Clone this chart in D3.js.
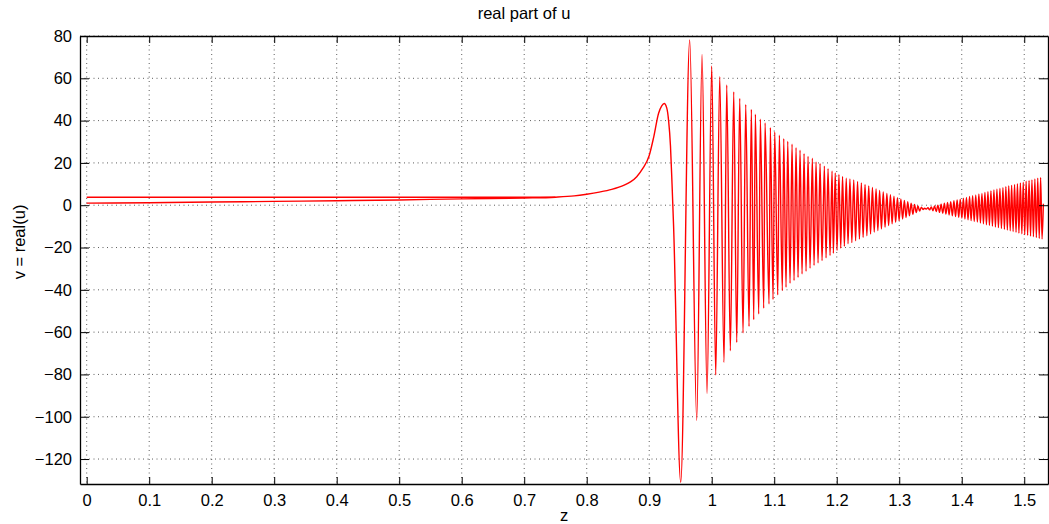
<!DOCTYPE html>
<html>
<head>
<meta charset="utf-8">
<script src="https://cdn.jsdelivr.net/npm/d3@7"></script>
<style>
    body { margin: 0; background: #fff; }
    svg text { font-family: "Liberation Sans", Arial, Helvetica, sans-serif; fill: #000; }
</style>
</head>
<body>
<div id="chart"></div>
<script>

// smooth part of the curve before the oscillations start
const approachZ = [0, 0.1, 0.2, 0.3, 0.4, 0.5, 0.6, 0.7, 0.75, 0.78, 0.8, 0.82, 0.84, 0.86, 0.87, 0.88,
    0.89, 0.9, 0.907, 0.915, 0.92, 0.924, 0.928, 0.931, 0.934, 0.9365, 0.939];
const approachV = [1.0, 1.2, 1.5, 1.8, 2.1, 2.5, 3.0, 3.4, 3.8, 4.4, 5.2, 6.2, 7.5, 9.5, 11.0, 13.5,
    17.5, 23.5, 32.0, 43.5, 47.0, 48.1, 46.0, 40.0, 28.0, 10.0, -10.0];

// second (flat) branch near v = 4
const flatZ = [0, 0.75];
const flatV = [3.8, 3.8];

// local minima of the oscillation
const troughZ = [0.9504, 0.976, 0.9925, 1.0064, 1.0197, 1.0298, 1.04, 1.0501, 1.0597, 1.0672, 1.0752,
    1.0832, 1.0917, 1.0981, 1.1056, 1.113, 1.1189, 1.1253, 1.1317, 1.1381, 1.1445, 1.1509, 1.1573,
    1.1637, 1.1701, 1.1765, 1.1829, 1.1893, 1.1946, 1.2005, 1.2064, 1.2122, 1.2181,
    1.2242, 1.2302, 1.2363, 1.2422, 1.2482, 1.2541, 1.26, 1.2658, 1.2715, 1.2773, 1.283, 1.2886,
    1.2942, 1.2998, 1.3054, 1.3109, 1.3163, 1.3218, 1.3272, 1.3326, 1.3381,
    1.3434, 1.3486, 1.3539, 1.3592, 1.3645, 1.3696, 1.3747, 1.3798, 1.385, 1.3901, 1.3952, 1.4002,
    1.4051, 1.4101, 1.415, 1.42, 1.425, 1.4299, 1.4347, 1.4395, 1.4443, 1.4491, 1.4539, 1.4587,
    1.4635, 1.4683, 1.473, 1.4776, 1.4822, 1.4869, 1.4915, 1.4962, 1.5008, 1.5054, 1.5101, 1.5147,
    1.5194, 1.524, 1.5285];
const troughV = [-131, -101.7, -89, -80.3, -74.3, -68.8, -64.9, -60.4, -57.3, -54.1, -51.4,
    -48.7, -46.7, -44.6, -42.4, -40.4, -38.8, -36.9, -35.6, -34.1, -32.5, -31.2, -29.8,
    -28.5, -27.3, -26.2, -24.9, -23.8, -22.7, -21.4, -20.3, -19.4, -18.2,
    -17.7, -16.8, -16.0, -15.2, -14.4, -13.6, -12.7, -12.0, -11.2, -10.4, -9.6, -8.8,
    -8.1, -7.3, -6.5, -5.8, -5.0, -4.3, -3.5, -2.8, -2.0,
    -1.8, -2.2, -2.6, -3.0, -3.4, -3.8, -4.2, -4.6, -5.0, -5.4, -5.7, -6.1,
    -6.5, -6.9, -7.3, -7.7, -8.0, -8.4, -8.8, -9.2, -9.5, -9.9, -10.3, -10.6,
    -11.0, -11.4, -11.7, -12.1, -12.4, -12.8, -13.2, -13.5, -13.9, -14.2,
    -14.6, -14.9, -15.3, -15.7, -16.0];

// local maxima of the oscillation
const peakZ = [0.9648, 0.9845, 1.0, 1.0128, 1.024, 1.0352, 1.0448, 1.0544, 1.0634, 1.0698, 1.0778,
    1.0853, 1.0938, 1.1008, 1.1082, 1.1152, 1.1216, 1.1285, 1.1349, 1.1413, 1.1477, 1.1541, 1.161,
    1.1669, 1.1733, 1.1802, 1.1861, 1.1925, 1.1976, 1.2035, 1.2093, 1.2152, 1.2211,
    1.2272, 1.2333, 1.2394, 1.2453, 1.2512, 1.2571, 1.2629, 1.2686, 1.2744, 1.2802, 1.2859, 1.2915,
    1.2971, 1.3026, 1.3082, 1.3136, 1.319, 1.3245, 1.3299, 1.3354, 1.3406,
    1.3459, 1.3512, 1.3565, 1.3618, 1.367, 1.3722, 1.3773, 1.3824, 1.3875, 1.3926, 1.3976, 1.4026,
    1.4075, 1.4125, 1.4174, 1.4224, 1.4274, 1.4323, 1.4371, 1.4419, 1.4467, 1.4515, 1.4563, 1.4611,
    1.4659, 1.4706, 1.4752, 1.4798, 1.4845, 1.4891, 1.4938, 1.4984, 1.503, 1.5077, 1.5123, 1.517,
    1.5216, 1.5262];
const peakV = [78.1, 71.3, 65.8, 60.7, 56.8, 53.6, 50.5, 47.6, 45.3, 43.0, 40.7,
    38.9, 36.7, 34.6, 33.1, 31.5, 30.2, 28.8, 27.2, 26.0, 24.4, 23.1, 22.2,
    20.4, 19.7, 18.5, 17.3, 16.2, 15.2, 14.5, 13.6, 12.8, 12.4,
    11.9, 11.2, 10.5, 9.8, 9.1, 8.4, 7.7, 7.0, 6.3, 5.6, 5.0, 4.3,
    3.6, 3.0, 2.3, 1.7, 1.0, 0.4, -0.3, -0.9, -1.4,
    -1.2, -0.8, -0.4, 0.0, 0.5, 0.9, 1.3, 1.7, 2.1, 2.5, 2.9, 3.3,
    3.7, 4.1, 4.5, 4.9, 5.3, 5.6, 6.0, 6.4, 6.8, 7.2, 7.6, 7.9,
    8.3, 8.7, 9.1, 9.4, 9.8, 10.2, 10.5, 10.9, 11.3, 11.7, 12.0, 12.4,
    12.8, 13.1];

// last sample
const tailZ = [1.5306];
const tailV = [0.7];

const xTicks = [0, 0.1, 0.2, 0.3, 0.4, 0.5, 0.6, 0.7, 0.8, 0.9, 1, 1.1, 1.2, 1.3, 1.4, 1.5];
const yTicks = [-120, -100, -80, -60, -40, -20, 0, 20, 40, 60, 80];


class RealPartVis {

    constructor(parentElement) {
        this.parentElement = parentElement;
        this.initVis();
    }

    initVis() {
        let vis = this;

        vis.margin = { top: 36, right: 1, bottom: 40, left: 80 };
        vis.width = 1049 - vis.margin.left - vis.margin.right;
        vis.height = 524 - vis.margin.top - vis.margin.bottom;

        vis.svgRoot = d3.select("#" + vis.parentElement).append("svg")
            .attr("width", 1049)
            .attr("height", 524);

        vis.svg = vis.svgRoot.append("g")
            .attr("transform", "translate(" + vis.margin.left + "," + vis.margin.top + ")");

        // Scales
        vis.x = d3.scaleLinear()
            .domain([-0.0107, 1.538])
            .range([0, vis.width]);

        vis.y = d3.scaleLinear()
            .domain([-131.8, 80])
            .range([vis.height, 0]);

        vis.svg.append("clipPath")
            .attr("id", "plot-clip")
            .append("rect")
            .attr("width", vis.width)
            .attr("height", vis.height);

        // dotted grid
        vis.svg.append("g").selectAll("line.vgrid")
            .data(xTicks)
            .enter().append("line")
            .attr("x1", d => vis.x(d)).attr("x2", d => vis.x(d))
            .attr("y1", 0).attr("y2", vis.height)
            .attr("stroke", "#333").attr("stroke-width", 0.8)
            .attr("stroke-dasharray", "1,3.5");

        vis.svg.append("g").selectAll("line.hgrid")
            .data(yTicks)
            .enter().append("line")
            .attr("x1", 0).attr("x2", vis.width)
            .attr("y1", d => vis.y(d)).attr("y2", d => vis.y(d))
            .attr("stroke", "#333").attr("stroke-width", 0.8)
            .attr("stroke-dasharray", "1,3.5");

        vis.wrangleData();
    }

    wrangleData() {
        let vis = this;

        let pts = [];
        approachZ.forEach((z, i) => pts.push({ z: z, v: approachV[i] }));
        troughZ.forEach((z, i) => pts.push({ z: z, v: troughV[i] }));
        peakZ.forEach((z, i) => pts.push({ z: z, v: peakV[i] }));
        tailZ.forEach((z, i) => pts.push({ z: z, v: tailV[i] }));
        pts.sort((a, b) => a.z - b.z);
        vis.displayData = pts;

        vis.flatData = flatZ.map((z, i) => ({ z: z, v: flatV[i] }));

        vis.updateVis();
    }

    updateVis() {
        let vis = this;

        let line = d3.line()
            .curve(d3.curveMonotoneX)
            .x(d => vis.x(d.z))
            .y(d => vis.y(d.v));

        let plot = vis.svg.append("g").attr("clip-path", "url(#plot-clip)");

        plot.append("path")
            .datum(vis.flatData)
            .attr("d", line)
            .attr("fill", "none")
            .attr("stroke", "#ff0000")
            .attr("stroke-width", 1.4);

        plot.append("path")
            .datum(vis.displayData)
            .attr("d", line)
            .attr("fill", "none")
            .attr("stroke", "#ff0000")
            .attr("stroke-width", 1.4)
            .attr("stroke-linejoin", "round");

        // axes: ticks inside, mirrored on top and right like a boxed plot
        let fmtX = d => String(d);
        let fmtY = d3.format("d");

        vis.svg.append("g")
            .attr("class", "x-axis axis")
            .attr("transform", "translate(0," + vis.height + ")")
            .call(d3.axisBottom(vis.x).tickValues(xTicks).tickFormat(fmtX).tickSizeInner(-7).tickSizeOuter(0).tickPadding(10));

        vis.svg.append("g")
            .call(d3.axisTop(vis.x).tickValues(xTicks).tickFormat("").tickSizeInner(-7).tickSizeOuter(0));

        vis.svg.append("g")
            .attr("class", "y-axis axis")
            .call(d3.axisLeft(vis.y).tickValues(yTicks).tickFormat(fmtY).tickSizeInner(-9).tickSizeOuter(0).tickPadding(8));

        vis.svg.append("g")
            .attr("transform", "translate(" + vis.width + ",0)")
            .call(d3.axisRight(vis.y).tickValues(yTicks).tickFormat("").tickSizeInner(-9).tickSizeOuter(0));

        vis.svg.selectAll(".domain").attr("stroke", "#000").attr("stroke-width", 1.3);
        vis.svg.selectAll(".tick line").attr("stroke", "#000").attr("stroke-width", 1);
        vis.svg.selectAll(".tick text").style("font-size", "16.5px")
            .style("font-family", "'Liberation Sans', Arial, sans-serif");

        // Chart title and axis labels
        vis.svg.append("text")
            .attr("x", 444)
            .attr("y", -17)
            .attr("text-anchor", "middle")
            .style("font-size", "16.5px")
            .text("real part of u");

        vis.svg.append("text")
            .attr("x", vis.width / 2)
            .attr("y", vis.height + 37)
            .attr("text-anchor", "middle")
            .style("font-size", "16.5px")
            .text("z");

        vis.svg.append("text")
            .attr("transform", "translate(-55," + (vis.height / 2 - 18) + ") rotate(-90)")
            .attr("text-anchor", "middle")
            .style("font-size", "16.5px")
            .text("v = real(u)");
    }
}

let realPartVis = new RealPartVis("chart");

</script>
</body>
</html>
